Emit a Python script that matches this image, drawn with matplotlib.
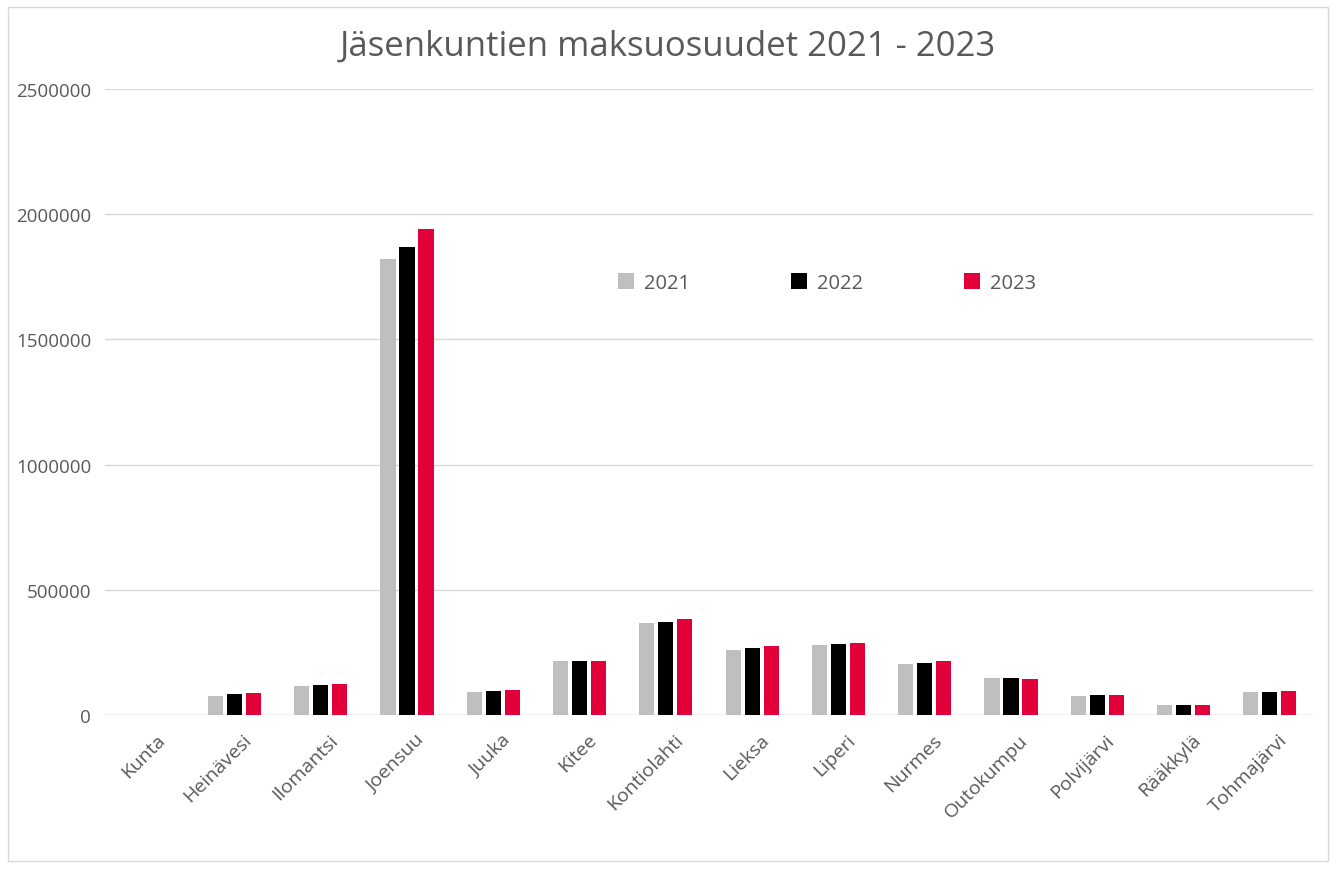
"""Jäsenkuntien maksuosuudet 2021 - 2023, grouped bar chart."""

import matplotlib

matplotlib.use("Agg")
import matplotlib.pyplot as plt  # noqa: E402
import matplotlib.transforms as mtransforms  # noqa: E402
import numpy as np  # noqa: E402
from matplotlib.patches import Rectangle  # noqa: E402
from matplotlib.ticker import FuncFormatter  # noqa: E402

plt.rcParams["font.family"] = ["Open Sans", "DejaVu Sans"]

kunnat = ["Kunta", "Heinävesi", "Ilomantsi", "Joensuu", "Juuka", "Kitee",
          "Kontiolahti", "Lieksa", "Liperi", "Nurmes", "Outokumpu",
          "Polvijärvi", "Rääkkylä", "Tohmajärvi"]
years = ["2021", "2022", "2023"]
v2021 = [np.nan, 76000, 116000, 1820000, 90000, 216000, 366000, 261000,
         281000, 204000, 146000, 77000, 38000, 90000]
v2022 = [np.nan, 82000, 120000, 1868000, 96000, 215000, 373000, 269000,
         285000, 209000, 146000, 81000, 41000, 93000]
v2023 = [np.nan, 88000, 125000, 1940000, 100000, 215000, 382000, 274000,
         288000, 216000, 144000, 81000, 41000, 96000]
colors = ["#BFBFBF", "#000000", "#E2003B"]
TXT = "#595959"

fig = plt.figure(figsize=(13.36, 8.70), dpi=100)
fig.patches.append(Rectangle((8 / 1336, 8 / 870), 1320 / 1336, 854 / 870,
                             transform=fig.transFigure, fill=False,
                             edgecolor="#D9D9D9", lw=1))
ax = fig.add_axes([105 / 1336, 1 - 716 / 870, 1208 / 1336, 626 / 870])

x = np.arange(len(kunnat))
width = 0.175
step = 0.22
for i, (vals, yr) in enumerate(zip([v2021, v2022, v2023], years)):
    ax.bar(x + (i - 1) * step, vals, width, color=colors[i], label=yr, zorder=3)

ax.set_xlim(-0.5, len(kunnat) - 0.5)
ax.set_ylim(0, 2500000)
ax.set_yticks(np.arange(0, 2500001, 500000))
ax.yaxis.set_major_formatter(FuncFormatter(lambda v, _: f"{int(v)}"))
ax.grid(axis="y", color="#D9D9D9", lw=1, zorder=0)
for s in ["top", "right", "left", "bottom"]:
    ax.spines[s].set_visible(False)
ax.axhline(0, color="#D9D9D9", lw=1, zorder=1)
ax.tick_params(axis="y", length=0, pad=10, labelsize=13.5, labelcolor=TXT)
ax.tick_params(axis="x", length=0, pad=11, labelsize=14, labelcolor=TXT)

ax.set_xticks(x)
ax.set_xticklabels(kunnat, rotation=45, ha="right", va="top",
                   rotation_mode="anchor")
shift = mtransforms.ScaledTranslation(0.08, 0, fig.dpi_scale_trans)
for lab in ax.get_xticklabels():
    lab.set_transform(lab.get_transform() + shift)

fig.text(0.5, 1 - 47 / 870, "Jäsenkuntien maksuosuudet 2021 - 2023",
         ha="center", va="center", fontsize=25, color=TXT)

ax.legend(loc="center", bbox_to_anchor=(0.598, 1 - (284 - 90) / 626), ncol=3,
          frameon=False, fontsize=14.5, labelcolor=TXT, handlelength=0.8,
          handleheight=0.8, handletextpad=0.5, columnspacing=5.0)

fig.savefig("out.png", dpi=100, facecolor="white")
